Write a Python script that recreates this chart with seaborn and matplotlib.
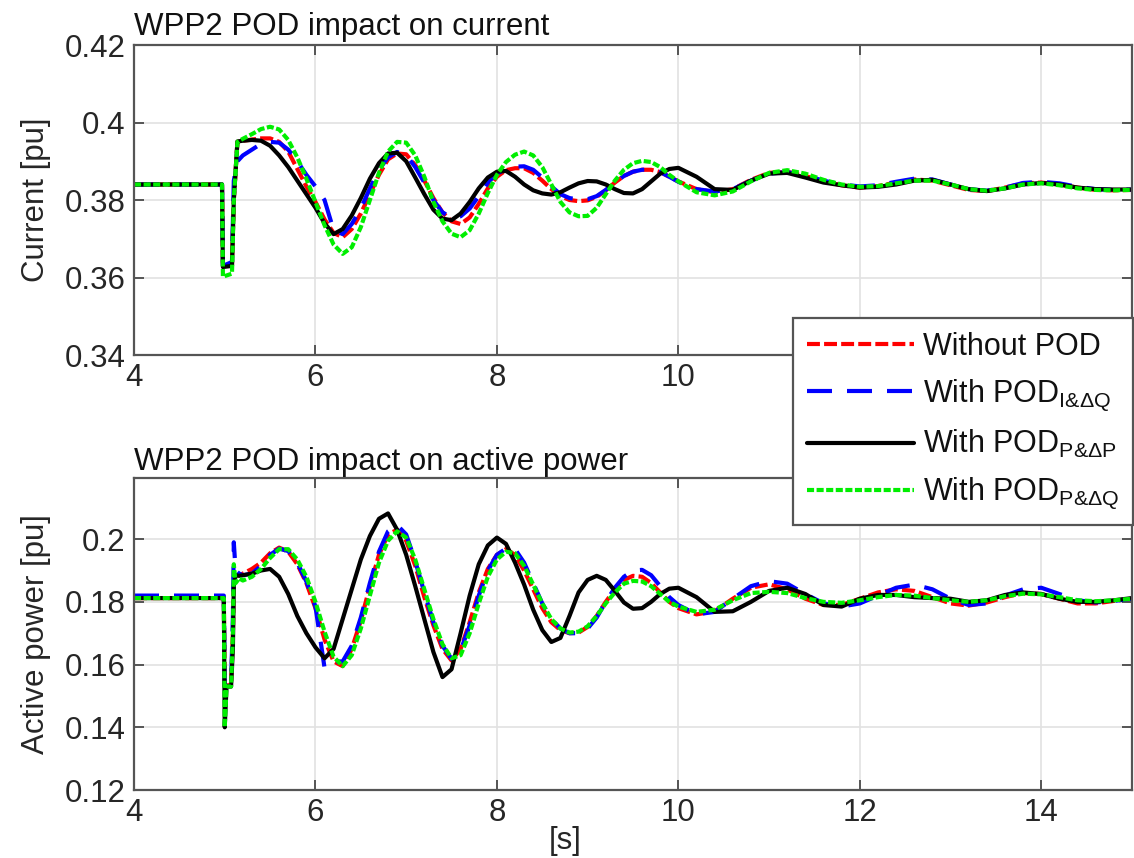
import matplotlib
matplotlib.use("Agg")
import matplotlib.pyplot as plt
from matplotlib.lines import Line2D
import pandas as pd
import seaborn as sns

# ---------------- data ----------------
t_top = [4.0, 4.97, 4.98, 5.08, 5.10, 5.14, 5.2,
         5.3, 5.4, 5.5, 5.6, 5.7, 5.8, 5.9, 6.0, 6.1, 6.2,
         6.3, 6.4, 6.5, 6.6, 6.7, 6.8, 6.9, 7.0, 7.1, 7.2,
         7.3, 7.4, 7.5, 7.6, 7.7, 7.8, 7.9, 8.0, 8.1, 8.2,
         8.3, 8.4, 8.5, 8.6, 8.7, 8.8, 8.9, 9.0, 9.1, 9.2,
         9.3, 9.4, 9.5, 9.6, 9.7, 9.8, 9.9, 10.0,
         10.2, 10.4, 10.6, 10.8, 11.0, 11.2, 11.4, 11.6, 11.8, 12.0,
         12.2, 12.4, 12.6, 12.8, 13.0, 13.2, 13.4, 13.6, 13.8, 14.0,
         14.2, 14.4, 14.6, 14.8, 15.0]

cur_without = [0.3840, 0.3840, 0.3630, 0.3633, 0.3800, 0.3950, 0.3953,
               0.3956, 0.3959, 0.3959, 0.3950, 0.3925, 0.3880, 0.3835, 0.3795, 0.3750, 0.3715,
               0.3704, 0.3725, 0.3765, 0.3815, 0.3865, 0.3905, 0.3920, 0.3918, 0.3890, 0.3850,
               0.3805, 0.3768, 0.3745, 0.3738, 0.3755, 0.3790, 0.3830, 0.3860, 0.3877, 0.3882,
               0.3882, 0.3870, 0.3850, 0.3828, 0.3810, 0.3800, 0.3797, 0.3799, 0.3808, 0.3825,
               0.3845, 0.3862, 0.3873, 0.3878, 0.3878, 0.3872, 0.3860, 0.3848,
               0.3828, 0.3820, 0.3828, 0.3852, 0.3870, 0.3873, 0.3862, 0.3848, 0.3838, 0.3832,
               0.3836, 0.3845, 0.3853, 0.3850, 0.3838, 0.3826, 0.3823, 0.3832, 0.3843, 0.3845,
               0.3840, 0.3832, 0.3826, 0.3825, 0.3826]

cur_i_dq = [0.3840, 0.3840, 0.3630, 0.3640, 0.3850, 0.3900, 0.3915,
            0.3930, 0.3945, 0.3950, 0.3948, 0.3930, 0.3900, 0.3865, 0.3835, 0.3800, 0.3722,
            0.3712, 0.3738, 0.3778, 0.3830, 0.3878, 0.3910, 0.3924, 0.3916, 0.3885, 0.3845,
            0.3800, 0.3768, 0.3755, 0.3758, 0.3778, 0.3810, 0.3845, 0.3868, 0.3880, 0.3886,
            0.3887, 0.3878, 0.3858, 0.3835, 0.3815, 0.3805, 0.3801, 0.3802, 0.3810, 0.3826,
            0.3845, 0.3862, 0.3873, 0.3878, 0.3879, 0.3872, 0.3860, 0.3847,
            0.3828, 0.3822, 0.3828, 0.3850, 0.3868, 0.3872, 0.3863, 0.3850, 0.3840, 0.3835,
            0.3838, 0.3847, 0.3855, 0.3853, 0.3840, 0.3828, 0.3824, 0.3832, 0.3844, 0.3847,
            0.3843, 0.3834, 0.3828, 0.3826, 0.3827]

cur_p_dp = [0.3840, 0.3840, 0.3627, 0.3630, 0.3800, 0.3951, 0.3953,
            0.3955, 0.3953, 0.3940, 0.3915, 0.3885, 0.3850, 0.3815, 0.3780, 0.3740, 0.3712,
            0.3725, 0.3760, 0.3805, 0.3855, 0.3895, 0.3920, 0.3922, 0.3900, 0.3858, 0.3815,
            0.3775, 0.3752, 0.3748, 0.3765, 0.3795, 0.3830, 0.3858, 0.3873, 0.3875, 0.3860,
            0.3840, 0.3825, 0.3817, 0.3814, 0.3820, 0.3832, 0.3843, 0.3849, 0.3848, 0.3840,
            0.3828, 0.3818, 0.3817, 0.3828, 0.3848, 0.3868, 0.3880, 0.3883,
            0.3860, 0.3828, 0.3826, 0.3850, 0.3868, 0.3870, 0.3858, 0.3845, 0.3838, 0.3832,
            0.3834, 0.3840, 0.3850, 0.3852, 0.3840, 0.3828, 0.3823, 0.3830, 0.3840, 0.3844,
            0.3840, 0.3832, 0.3828, 0.3827, 0.3827]

cur_p_dq = [0.3840, 0.3840, 0.3602, 0.3610, 0.3800, 0.3950, 0.3958,
            0.3970, 0.3983, 0.3989, 0.3982, 0.3955, 0.3910, 0.3855, 0.3795, 0.3735, 0.3685,
            0.3661, 0.3678, 0.3730, 0.3800, 0.3870, 0.3925, 0.3950, 0.3948, 0.3915, 0.3860,
            0.3795, 0.3745, 0.3713, 0.3704, 0.3722, 0.3765, 0.3818, 0.3865, 0.3898, 0.3917,
            0.3925, 0.3915, 0.3885, 0.3840, 0.3795, 0.3768, 0.3758, 0.3759, 0.3780, 0.3815,
            0.3850, 0.3878, 0.3895, 0.3901, 0.3898, 0.3885, 0.3865, 0.3848,
            0.3820, 0.3812, 0.3822, 0.3848, 0.3870, 0.3877, 0.3868, 0.3852, 0.3840, 0.3834,
            0.3836, 0.3843, 0.3850, 0.3850, 0.3840, 0.3828, 0.3824, 0.3830, 0.3840, 0.3843,
            0.3838, 0.3830, 0.3826, 0.3825, 0.3826]

t_bot = [4.0, 4.99, 5.0, 5.02, 5.07, 5.09, 5.1, 5.12, 5.16, 5.2,
         5.3, 5.4, 5.5, 5.6, 5.7, 5.8, 5.9, 6.0, 6.1, 6.2,
         6.3, 6.4, 6.5, 6.6, 6.7, 6.8, 6.9, 7.0, 7.1, 7.2,
         7.3, 7.4, 7.5, 7.6, 7.7, 7.8, 7.9, 8.0, 8.1, 8.2,
         8.3, 8.4, 8.5, 8.6, 8.7, 8.8, 8.9, 9.0, 9.1, 9.2,
         9.3, 9.4, 9.5, 9.6, 9.7, 9.8, 9.9, 10.0,
         10.2, 10.4, 10.6, 10.8, 11.0, 11.2, 11.4, 11.6, 11.8, 12.0,
         12.2, 12.4, 12.6, 12.8, 13.0, 13.2, 13.4, 13.6, 13.8, 14.0,
         14.2, 14.4, 14.6, 14.8, 15.0]

pow_without = [0.1812, 0.1812, 0.1530, 0.1530, 0.1540, 0.1700, 0.1880, 0.1885, 0.1885, 0.1890,
               0.1905, 0.1925, 0.1955, 0.1973, 0.1960, 0.1920, 0.1860, 0.1780, 0.1680, 0.1610,
               0.1595, 0.1650, 0.1740, 0.1850, 0.1950, 0.2015, 0.2030, 0.1995, 0.1915, 0.1815,
               0.1725, 0.1650, 0.1613, 0.1650, 0.1735, 0.1830, 0.1905, 0.1950, 0.1968, 0.1950,
               0.1900, 0.1840, 0.1780, 0.1735, 0.1710, 0.1700, 0.1702, 0.1720, 0.1755, 0.1800,
               0.1840, 0.1870, 0.1883, 0.1880, 0.1860, 0.1830, 0.1800, 0.1780,
               0.1760, 0.1770, 0.1810, 0.1845, 0.1856, 0.1840, 0.1810, 0.1790, 0.1790, 0.1810,
               0.1830, 0.1840, 0.1835, 0.1815, 0.1795, 0.1788, 0.1798, 0.1815, 0.1828, 0.1825,
               0.1810, 0.1795, 0.1795, 0.1803, 0.1810]

pow_i_dq = [0.1820, 0.1820, 0.1530, 0.1530, 0.1540, 0.1750, 0.1990, 0.1900, 0.1890, 0.1885,
            0.1890, 0.1915, 0.1950, 0.1970, 0.1962, 0.1925, 0.1865, 0.1785, 0.1590, 0.1610,
            0.1610, 0.1660, 0.1750, 0.1860, 0.1960, 0.2025, 0.2045, 0.2015, 0.1930, 0.1830,
            0.1735, 0.1660, 0.1618, 0.1645, 0.1725, 0.1820, 0.1900, 0.1950, 0.1970, 0.1968,
            0.1925, 0.1860, 0.1795, 0.1745, 0.1715, 0.1700, 0.1700, 0.1715, 0.1750, 0.1800,
            0.1845, 0.1880, 0.1900, 0.1902, 0.1885, 0.1850, 0.1815, 0.1790,
            0.1760, 0.1768, 0.1810, 0.1850, 0.1866, 0.1858, 0.1825, 0.1795, 0.1785, 0.1795,
            0.1820, 0.1845, 0.1855, 0.1840, 0.1810, 0.1790, 0.1795, 0.1820, 0.1840, 0.1845,
            0.1825, 0.1805, 0.1798, 0.1803, 0.1810]

pow_p_dp = [0.1812, 0.1812, 0.1400, 0.1530, 0.1530, 0.1650, 0.1850, 0.1885, 0.1883, 0.1885,
            0.1890, 0.1900, 0.1905, 0.1880, 0.1825, 0.1755, 0.1700, 0.1655, 0.1620, 0.1650,
            0.1745, 0.1840, 0.1935, 0.2010, 0.2065, 0.2082, 0.2030, 0.1950, 0.1850, 0.1745,
            0.1640, 0.1560, 0.1585, 0.1700, 0.1820, 0.1920, 0.1980, 0.2005, 0.1985, 0.1925,
            0.1855, 0.1775, 0.1710, 0.1672, 0.1685, 0.1755, 0.1830, 0.1870, 0.1883, 0.1870,
            0.1835, 0.1798, 0.1778, 0.1780, 0.1800, 0.1825, 0.1842, 0.1845,
            0.1815, 0.1768, 0.1770, 0.1800, 0.1835, 0.1845, 0.1825, 0.1790, 0.1785, 0.1810,
            0.1822, 0.1822, 0.1815, 0.1812, 0.1810, 0.1800, 0.1805, 0.1822, 0.1830, 0.1825,
            0.1810, 0.1800, 0.1800, 0.1805, 0.1812]

pow_p_dq = [0.1812, 0.1812, 0.1400, 0.1530, 0.1530, 0.1700, 0.1920, 0.1860, 0.1875, 0.1868,
            0.1880, 0.1905, 0.1940, 0.1968, 0.1968, 0.1935, 0.1880, 0.1800, 0.1705, 0.1625,
            0.1595, 0.1630, 0.1715, 0.1820, 0.1925, 0.1995, 0.2025, 0.2005, 0.1935, 0.1840,
            0.1745, 0.1665, 0.1620, 0.1630, 0.1700, 0.1795, 0.1880, 0.1935, 0.1960, 0.1955,
            0.1915, 0.1855, 0.1795, 0.1745, 0.1715, 0.1702, 0.1705, 0.1722, 0.1755, 0.1795,
            0.1830, 0.1858, 0.1867, 0.1865, 0.1850, 0.1825, 0.1800, 0.1785,
            0.1768, 0.1775, 0.1805, 0.1828, 0.1832, 0.1828, 0.1812, 0.1800, 0.1797, 0.1805,
            0.1815, 0.1822, 0.1820, 0.1812, 0.1805, 0.1800, 0.1805, 0.1818, 0.1826, 0.1824,
            0.1815, 0.1805, 0.1802, 0.1805, 0.1810]

series_names = ["Without POD", "I&dQ", "P&dP", "P&dQ"]
legend_labels = ["Without POD",
                 r"With POD$_{\mathrm{I&\Delta Q}}$",
                 r"With POD$_{\mathrm{P&\Delta P}}$",
                 r"With POD$_{\mathrm{P&\Delta Q}}$"]
x_ticks = [4, 6, 8, 10, 12, 14]
x_tick_labels_top = ["4", "6", "8", "10", "", ""]   # 12 and 14 are hidden by the legend
x_tick_labels_bot = ["4", "6", "8", "10", "12", "14"]
y_ticks_top = [0.34, 0.36, 0.38, 0.40, 0.42]
y_tick_labels_top = ["0.34", "0.36", "0.38", "0.4", "0.42"]
y_ticks_bot = [0.12, 0.14, 0.16, 0.18, 0.20]
y_tick_labels_bot = ["0.12", "0.14", "0.16", "0.18", "0.2"]

# ---------------- style ----------------
sns.set_theme(style="whitegrid")
plt.rcParams["font.family"] = ["Liberation Sans", "DejaVu Sans"]
plt.rcParams["mathtext.fontset"] = "custom"
plt.rcParams["mathtext.rm"] = "Liberation Sans"
plt.rcParams["mathtext.it"] = "Liberation Sans:italic"
plt.rcParams["mathtext.bf"] = "Liberation Sans:bold"

palette = {"Without POD": "#ff0000", "I&dQ": "#0000ff", "P&dP": "#000000", "P&dQ": "#00ee00"}
dashes = {"Without POD": (3.1, 1.0), "I&dQ": (6.0, 3.6), "P&dP": "", "P&dQ": (1.7, 0.6)}
LW = 3.0
SPINE = "#555555"
TXT = "#262626"
FS = 22.5

df_top = pd.concat([pd.DataFrame({"t": t_top, "v": v, "series": n})
                    for n, v in zip(series_names, [cur_without, cur_i_dq, cur_p_dp, cur_p_dq])],
                   ignore_index=True)
df_bot = pd.concat([pd.DataFrame({"t": t_bot, "v": v, "series": n})
                    for n, v in zip(series_names, [pow_without, pow_i_dq, pow_p_dp, pow_p_dq])],
                   ignore_index=True)

W, H = 1134, 858
fig = plt.figure(figsize=(W / 100, H / 100), dpi=100)
left = 134 / W
width = (1132 - 134) / W
ax1 = fig.add_axes([left, 1 - 355 / H, width, (355 - 45) / H])
ax2 = fig.add_axes([left, 1 - 790 / H, width, (790 - 478) / H])

for ax, df, xtl in [(ax1, df_top, x_tick_labels_top), (ax2, df_bot, x_tick_labels_bot)]:
    sns.lineplot(data=df, x="t", y="v", hue="series", style="series",
                 hue_order=series_names, style_order=series_names,
                 palette=palette, dashes=dashes, estimator=None, sort=False,
                 linewidth=LW, legend=False, ax=ax)
    ax.set_xlim(4, 15)
    ax.set_xticks(x_ticks)
    ax.set_xticklabels(xtl)
    ax.grid(True, color="#e2e2e2", linewidth=1.2)
    ax.set_axisbelow(True)
    for sp in ax.spines.values():
        sp.set_visible(True)
        sp.set_color(SPINE)
        sp.set_linewidth(1.6)
    ax.tick_params(direction="in", length=7, width=1.4, color=SPINE,
                   top=True, right=True, bottom=True, left=True,
                   labelsize=FS, labelcolor=TXT, pad=6)

ax1.set_ylim(0.34, 0.42)
ax1.set_yticks(y_ticks_top)
ax1.set_yticklabels(y_tick_labels_top)
ax2.set_ylim(0.12, 0.2195)
ax2.set_yticks(y_ticks_bot)
ax2.set_yticklabels(y_tick_labels_bot)

ax1.set_xlabel("")
ax1.set_ylabel("Current [pu]", fontsize=FS, color=TXT, labelpad=10)
ax2.set_ylabel("Active power [pu]", fontsize=FS, color=TXT, labelpad=10)
ax2.set_xlabel("[s]", fontsize=FS, color=TXT, labelpad=-2)
ax2.xaxis.set_label_coords((565 - 134) / (1132 - 134), -0.115)

ax1.set_title("WPP2 POD impact on current", loc="left", fontsize=FS, color="#111111", pad=7)
ax2.set_title("WPP2 POD impact on active power", loc="left", fontsize=FS, color="#111111", pad=6)

handles = [Line2D([], [], color=palette[n], linewidth=LW,
                  linestyle=(0, dashes[n]) if dashes[n] != "" else "-")
           for n in series_names]
leg = fig.legend(handles, legend_labels, loc="upper right",
                 bbox_to_anchor=(1133 / W, 1 - 318 / H),
                 fontsize=22, frameon=True, fancybox=False, framealpha=1,
                 edgecolor=SPINE, handlelength=3.5, handletextpad=0.3,
                 labelspacing=0.5, borderpad=0.45, borderaxespad=0.0)
leg.get_frame().set_linewidth(1.6)
for txt in leg.get_texts():
    txt.set_color("#111111")

fig.savefig("out.png", dpi=100)
